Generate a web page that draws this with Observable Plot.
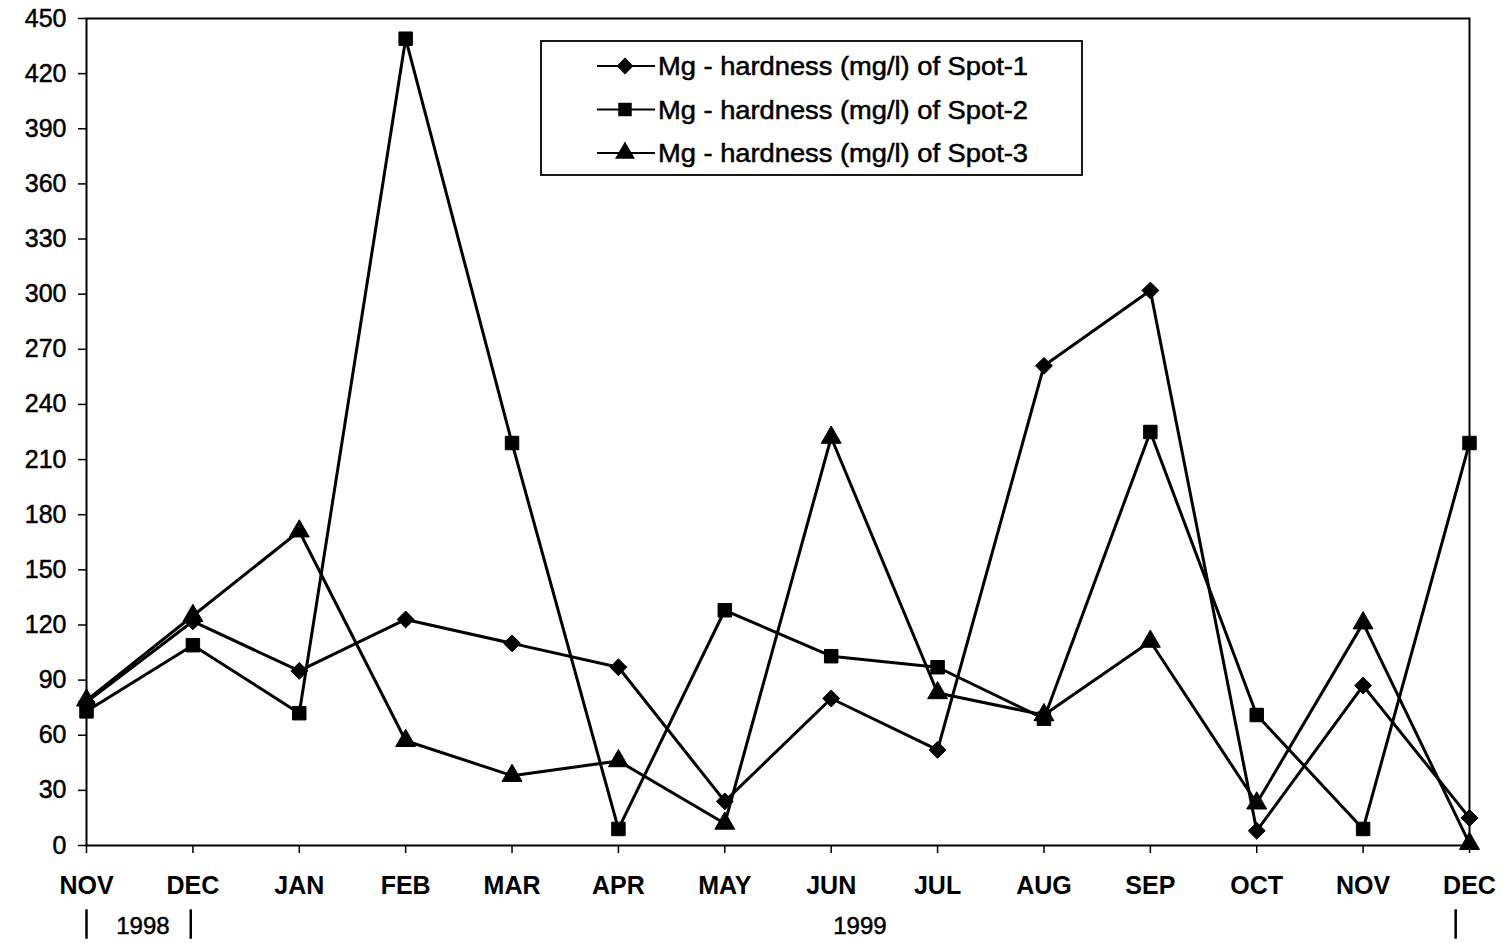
<!DOCTYPE html>
<html>
<head>
<meta charset="utf-8">
<script src="https://cdn.jsdelivr.net/npm/d3@7"></script>
<script src="https://cdn.jsdelivr.net/npm/@observablehq/plot@0.6"></script>
<style>
  html, body { margin: 0; padding: 0; background: #fff; }
  #chart { width: 1502px; height: 943px; }
  svg { font-family: "Liberation Sans", Arial, sans-serif; }
  .thick text { stroke: #000; stroke-width: 0.5px; }
</style>
</head>
<body>
<div id="chart"></div>
<script>
// Categories (month ticks, Nov 1998 – Dec 1999)
const months = ["NOV","DEC","JAN","FEB","MAR","APR","MAY","JUN","JUL","AUG","SEP","OCT","NOV","DEC"];
const yTicks = [0,30,60,90,120,150,180,210,240,270,300,330,360,390,420,450];

// Series values (Mg - hardness, mg/l)
const spot1 = [78,122,95,123,110,97,24,80,52,261,302,8,87,15];
const spot2 = [73,109,72,439,219,9,128,103,97,69,225,71,9,219];
const spot3 = [79,125,171,57,38,46,12,222,83,71,111,23,121,1];

const seriesNames = [
  "Mg - hardness (mg/l) of Spot-1",
  "Mg - hardness (mg/l) of Spot-2",
  "Mg - hardness (mg/l) of Spot-3"
];
const seriesSymbols = ["diamond2","square","triangle"];
const seriesValues = [spot1, spot2, spot3];
const symbolR = {diamond2: 7.6, square: 7.6, triangle: 7.4};

// Year annotations under the axis (in month-index units)
const yearLabels = [{label: "1998", at: 0.53}, {label: "1999", at: 7.27}];
const yearBars = [0, 0.98, 12.87];

const series = seriesValues.map((vals, s) => vals.map((v, i) => ({i, v, s: seriesNames[s]})));

const W = 1502, H = 943;
const plot = Plot.plot({
  width: W,
  height: H,
  marginLeft: 86,
  marginRight: 33,
  marginTop: 18,
  marginBottom: 98,
  style: {fontFamily: '"Liberation Sans", Arial, sans-serif', color: "#000", background: "#fff", overflow: "visible"},
  x: {type: "linear", domain: [0, months.length - 1]},
  y: {domain: [0, 450]},
  marks: [
    Plot.frame({stroke: "#000", strokeWidth: 2}),
    Plot.axisY({ticks: yTicks, tickSize: 8, tickPadding: 12, fontSize: 25, label: null, stroke: "#000", strokeWidth: 1.5, className: "thick"}),
    Plot.axisX({ticks: d3.range(months.length), tickFormat: i => months[i], tickSize: 8, tickPadding: 23, fontSize: 25, fontWeight: "bold", label: null, stroke: "#000", strokeWidth: 1.5}),
    ...series.map(d => Plot.line(d, {x: "i", y: "v", stroke: "#000", strokeWidth: 3})),
    ...series.map((d, s) => Plot.dot(d, {x: "i", y: "v", symbol: seriesSymbols[s], fill: "#000", stroke: "#000", strokeWidth: 1, r: symbolR[seriesSymbols[s]]})),
    Plot.text(yearLabels, {x: "at", y: -44, text: "label", fontSize: 24, fill: "#000", textAnchor: "middle", className: "thick"}),
    Plot.ruleX(yearBars, {x: d => d, y1: -35, y2: -51, stroke: "#000", strokeWidth: 2.5})
  ]
});
document.getElementById("chart").appendChild(plot);

// Legend box drawn inside the SVG
const svg = d3.select(plot);
const lg = svg.append("g").attr("class", "thick").attr("text-anchor", "start");
const lx = 541, ly = 41, lw = 541, lh = 134;
lg.append("rect").attr("x", lx).attr("y", ly).attr("width", lw).attr("height", lh)
  .attr("fill", "#fff").attr("stroke", "#000").attr("stroke-width", 1.8);
seriesNames.forEach((name, k) => {
  const cy = ly + 25 + k * 43.5;
  lg.append("line").attr("x1", lx + 56).attr("x2", lx + 114).attr("y1", cy).attr("y2", cy)
    .attr("stroke", "#000").attr("stroke-width", 2.2);
  const sym = {diamond2: d3.symbolDiamond2, square: d3.symbolSquare, triangle: d3.symbolTriangle}[seriesSymbols[k]];
  const r = symbolR[seriesSymbols[k]];
  lg.append("path").attr("d", d3.symbol(sym, Math.PI * r * r)()).attr("transform", `translate(${lx + 84},${cy})`).attr("fill", "#000");
  lg.append("text").attr("x", lx + 117).attr("y", cy + 9).attr("font-size", 25).attr("fill", "#000")
    .attr("text-anchor", "start").attr("textLength", 370).attr("lengthAdjust", "spacingAndGlyphs").text(name);
});
</script>
</body>
</html>
